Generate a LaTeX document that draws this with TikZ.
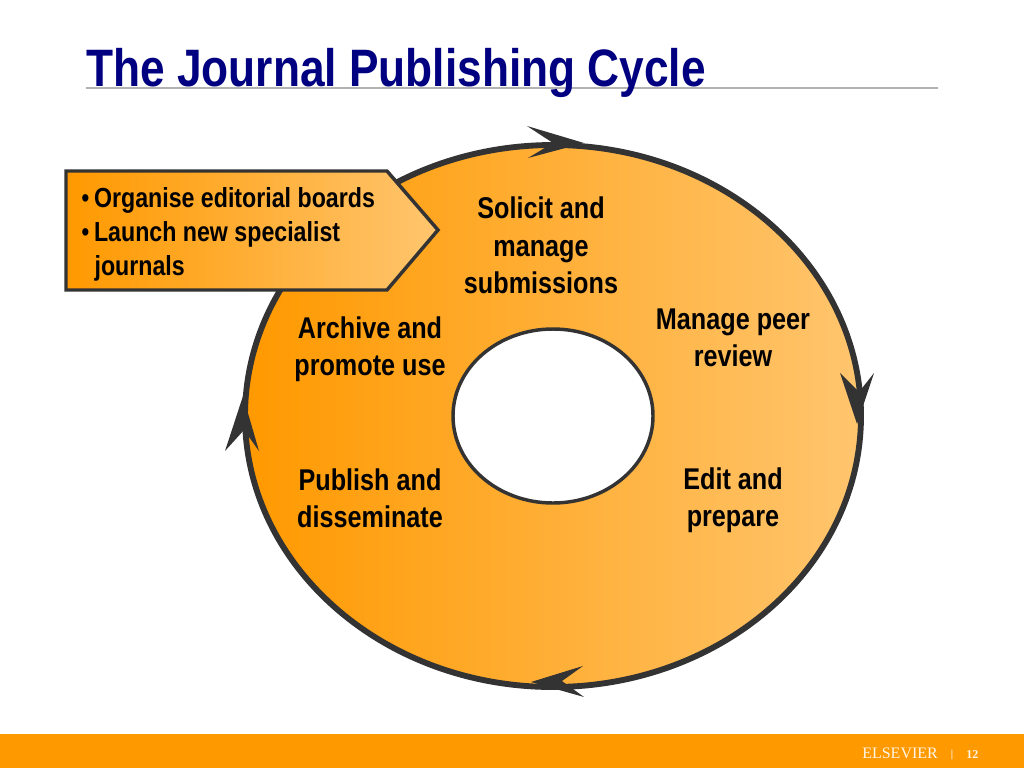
\documentclass[tikz,border=0pt]{standalone}
\usepackage{fontspec}
\setmainfont{Liberation Sans}[FakeStretch=0.84]
\newfontfamily\footfont{Liberation Serif}
\definecolor{cycleorange}{HTML}{FF9900}
\definecolor{cyclelight}{HTML}{FFC56E}
\definecolor{cycleline}{HTML}{333333}
\definecolor{titleblue}{HTML}{000080}
\tikzset{
    cycletext/.style={font=\fontsize{22.5}{28}\selectfont\bfseries, align=center, text=black},
    headtip/.style={fill=cycleline, draw=none},
}

\begin{document}
\begin{tikzpicture}[x=0.75pt, y=-0.75pt]
    \useasboundingbox (0,0) rectangle (1024,768);

    \coordinate (C) at (553,416);

    % footer and title
    \fill[cycleorange] (0,734) rectangle (1024,768);
    \draw[gray!60, line width=0.9pt] (86,88)--(938,88);
    \node[anchor=base west, inner sep=0, text=titleblue, font=\fontsize{39.5}{44}\selectfont\bfseries] (title) at (86,86) {The Journal Publishing Cycle};

    % the ring
    \shade[left color=cycleorange, right color=cyclelight, draw=cycleline, line width=4.4pt] (C) ellipse (308 and 271);
    \filldraw[fill=white, draw=cycleline, line width=2.6pt] (C) ellipse (100 and 87);

    % arrow heads on the ring
    \fill[headtip] (584,143)--(527,126)--(553,143)--(528,158)--cycle;
    \fill[headtip] (857,424)--(840,373)--(859,392)--(874,373)--cycle;
    \fill[headtip] (531,682)--(583,666)--(562,681)--(584,697)--cycle;
    \fill[headtip] (243,396)--(225,451)--(244,430)--(259,451)--cycle;

    % box on the left
    \shade[left color=cycleorange, right color=cyclelight, draw=cycleline, line width=2.6pt]
        (66,171)--(387,171)--(438,230)--(387,290)--(66,290)--cycle;

    \node[cycletext, anchor=north west, align=left, inner sep=0, font=\fontsize{20.7}{25.5}\selectfont\bfseries] (tasks) at (81,187)
        {{\mdseries\textbullet}\hspace{3.5pt}Organise editorial boards\\
         {\mdseries\textbullet}\hspace{3.5pt}Launch new specialist\\
         \hspace{10pt}journals};

    \node[cycletext] (solicit) at (541,245.5) {Solicit and\\manage\\submissions};
    \node[cycletext] (review) at (733,338) {Manage peer\\review};
    \node[cycletext] (edit) at (733,500.5) {Edit and\\prepare};
    \node[cycletext] (publish) at (370,498) {Publish and\\disseminate};
    \node[cycletext] (archive) at (370,349) {Archive and\\promote use};

    % footer text
    \node[anchor=base west, inner sep=0, text=white!90!cycleorange, font=\footfont\fontsize{12}{14}\selectfont] (brand) at (862,758) {ELSEVIER};
    \node[anchor=base, inner sep=0, text=white!90!cycleorange, font=\footfont\bfseries\fontsize{8}{10}\selectfont] (sep) at (952,757) {|};
    \node[anchor=base west, inner sep=0, text=white!90!cycleorange, font=\footfont\fontsize{9}{10}\selectfont\bfseries] (page) at (966,758) {12};
\end{tikzpicture}
\end{document}
